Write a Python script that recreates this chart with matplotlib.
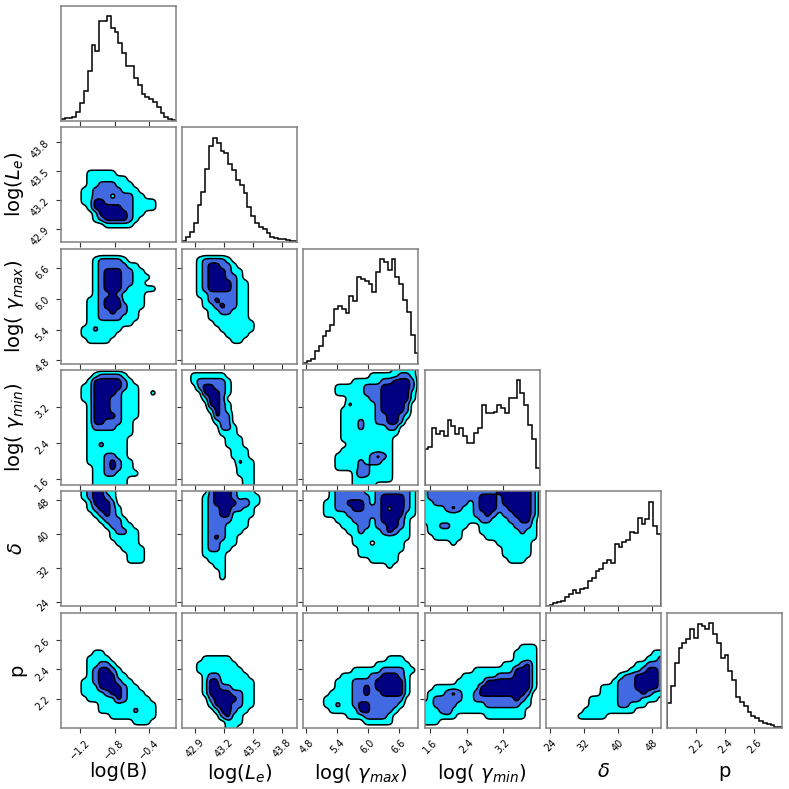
import numpy as np
import matplotlib.pyplot as plt

# axis names, ranges and ticks (one entry per parameter)
labels = ['log(B)', r'log($L_e$)', r'log( $\gamma_{max}$)', r'log( $\gamma_{min}$)', r'$\delta$', 'p']
ranges = [(-1.42, -0.09), (42.77, 43.955), (4.74, 6.98), (1.475, 4.01), (23.0, 50.1), (2.0, 2.79)]
tick_vals = [[-1.2, -0.8, -0.4], [42.9, 43.2, 43.5, 43.8], [4.8, 5.4, 6.0, 6.6],
             [1.6, 2.4, 3.2], [24, 32, 40, 48], [2.2, 2.4, 2.6]]
tick_text = [['\u22121.2', '\u22120.8', '\u22120.4'], ['42.9', '43.2', '43.5', '43.8'],
             ['4.8', '5.4', '6.0', '6.6'], ['1.6', '2.4', '3.2'], ['24', '32', '40', '48'],
             ['2.2', '2.4', '2.6']]

# 1D marginal histograms (30 bins over each axis range)
hist_B = [4, 7, 7, 10, 27, 54, 90, 150, 227, 210, 300, 300, 314, 277, 267, 234, 202, 164, 164, 127,
          107, 79, 72, 64, 57, 40, 22, 12, 4, 2]
hist_Le = [4, 14, 29, 56, 111, 151, 221, 289, 314, 299, 274, 269, 234, 216, 188, 171, 146, 106, 78, 58,
           46, 40, 26, 14, 12, 10, 8, 6, 4, 3]
hist_gmax = [1, 6, 13, 36, 53, 83, 96, 116, 163, 173, 163, 150, 203, 188, 260, 253, 246, 238, 213, 273,
             313, 303, 281, 313, 258, 238, 190, 153, 86, 31]
hist_gmin = [107, 114, 170, 154, 162, 147, 194, 177, 152, 172, 147, 125, 125, 157, 172, 239, 217, 217, 220, 240,
             232, 217, 260, 260, 314, 277, 240, 179, 139, 50]
hist_delta = [1, 4, 10, 12, 17, 27, 37, 49, 40, 52, 54, 77, 84, 107, 112, 130, 140, 130, 188, 177,
              194, 200, 224, 220, 265, 247, 262, 314, 240, 217]
hist_p = [73, 125, 193, 240, 255, 265, 295, 270, 311, 303, 295, 313, 281, 253, 208, 218, 170, 143, 91, 78,
          65, 48, 35, 28, 20, 15, 11, 7, 3, 1]

# 2D credible-level maps, 21x21 samples, top row first
# '.' outside, '1' outer level, '2' middle level, '3' inner level
E = '.' * 21
lvl_Le_B = [E, E, E, E, E, E, E, E,
            ".....11111...........",
            ".....1111111.........",
            ".....11222111........",
            "....1122222111.......",
            "....11222122211......",
            "....1133222221111....",
            ".....133333221111....",
            "......133333211......",
            "......12333321.......",
            "........11111........",
            E, E, E]
lvl_gmax_B = [E, E,
              "......122221.........",
              "......12222211.......",
              "......123332211......",
              "......1233322111.....",
              "......123332211......",
              "......12333211111....",
              "......122321111......",
              ".....1123331111......",
              ".....1123332111......",
              ".....112232211.......",
              ".....112222111.......",
              ".....11111111........",
              "....1121111..........",
              "....111111...........",
              ".....1111............",
              E, E, E, E]
lvl_gmax_Le = [E, E,
               "...122221............",
               "...1233221...........",
               "...12333211..........",
               "...12333221..........",
               "...123333211.........",
               "...123333211.........",
               "...112222211.........",
               "....12322211.........",
               "....11232211.........",
               ".....1122111.........",
               ".....1111111.........",
               "......1111111........",
               ".......111111........",
               "........1111.........",
               ".........11..........",
               E, E, E, E]
lvl_gmin_B = [E,
              "......122221.........",
              ".....13333321........",
              "....1133333211.......",
              "....1133332111..1....",
              "....1133322111.......",
              ".....133322111.......",
              ".....133322111.......",
              ".....133332111.......",
              ".....13322211........",
              ".....12222111........",
              ".....11111111........",
              ".....1111111.........",
              ".....1121111.........",
              ".....1111111.........",
              ".....1112211.........",
              ".....11123211........",
              "......1123211........",
              "......11221111.......",
              "......111111.........",
              "......111111........."]
lvl_gmin_Le = [E,
               "..111111.............",
               "..1222221............",
               "...233221............",
               "....33321............",
               "....1332.............",
               ".....3321............",
               ".....1321............",
               "......322............",
               "......122............",
               ".......221...........",
               ".......111...........",
               "........111..........",
               "........111..........",
               ".........111.........",
               ".........111.........",
               "..........211........",
               "..........111........",
               "..........111........",
               "...........11........",
               "...........11........"]
lvl_gmin_gmax = ["................1111.",
                 "............11111221.",
                 ".........11111223332.",
                 "......11111222333332.",
                 "......11111222333331.",
                 "........111122333331.",
                 "........21111233332..",
                 ".......111111233332..",
                 ".......111111223321..",
                 ".......11121122332...",
                 ".......1112111122....",
                 ".......1111111111....",
                 ".......111111111.....",
                 "........11111111.....",
                 ".......111111111.....",
                 "......1111112321.....",
                 "......1111212211.....",
                 "......1111221111.....",
                 ".........1321111.....",
                 ".........1111111.....",
                 ".........1111........"]
lvl_delta_B = ["....123311...........",
               "....123321...........",
               ".....13332...........",
               ".....123321..........",
               "......12321..........",
               ".......12221.........",
               "........12211........",
               ".........12211.......",
               ".........11111.......",
               "..........1111.......",
               "...........1111......",
               "............111......",
               "............111......",
               E, E, E, E, E, E, E, E]
lvl_delta_Le = [".....23332111........",
                "....1233321111.......",
                "....1233332311.......",
                "....122332211........",
                "....122331111........",
                "....12222111.........",
                "....12221111.........",
                "....1222111..........",
                "....123211...........",
                "....122111...........",
                "....12211............",
                "....1111.............",
                ".....111.............",
                "......11.............",
                ".......1.............",
                ".......1.............",
                E, E, E, E, E]
lvl_delta_gmax = [".....122222112222221.",
                  ".....122222212333321.",
                  "....1122333212333321.",
                  "....1122233222323321.",
                  "....1111222222333311.",
                  "......1112221233321..",
                  ".......111221223321..",
                  "........11211123211..",
                  ".........1111111111..",
                  ".........111.11111...",
                  "..........11111111...",
                  "..........1111111....",
                  "............11111....",
                  "...............1.....",
                  E, E, E, E, E, E, E]
lvl_delta_gmin = ["12222222222223333332.",
                  "12222222223332333332.",
                  "11222222123332333332.",
                  "11112321123332233332.",
                  "11111111122321223332.",
                  "11111111112211122331.",
                  ".1122111..1111112221.",
                  ".111111...1111111211.",
                  "..11111....111111111.",
                  ".....1.......111111..",
                  "..............11111..",
                  "..............11111..",
                  "...............111...",
                  E, E, E, E, E, E, E, E]
lvl_p_B = [E, E, E, E, E, E, E,
           "......11.............",
           ".....1111............",
           ".....11221...........",
           ".....123321..........",
           ".....1233311.........",
           "....112333211........",
           "....1113333211.......",
           "....11112332111......",
           ".....11111321111.....",
           ".......1111111111....",
           ".......1111112111....",
           ".........11111111....",
           ".............111.....",
           E]
lvl_p_Le = [E, E, E, E, E, E, E, E,
            "....11111............",
            "...1111111...........",
            "...11111111..........",
            "....12211111.........",
            "....133111111........",
            "....133221111........",
            "....133332211........",
            ".....23333211........",
            ".....13332211........",
            "......133211.........",
            ".......2311..........",
            "........111..........",
            "........11..........."]
lvl_p_gmax = [E, E, E, E, E, E, E, E,
              "...............111...",
              ".............111111..",
              ".........11111222211.",
              ".......111112233321..",
              "......1112222333331..",
              "......1112232333331..",
              ".....11112232233331..",
              "....11111222222222...",
              "....11211233222221...",
              ".....111113322221....",
              "........11122221.....",
              "...........11111.....",
              E]
lvl_p_gmin = [E, E, E, E, E, E,
              ".................111.",
              "................1111.",
              "................1111.",
              "..............111231.",
              ".........11111113331.",
              ".......1111112223331.",
              "......11111333333331.",
              "..111111113333333331.",
              ".111232112333333332..",
              ".122222112222222321..",
              "1122221111122222211..",
              "111231111111111111...",
              "111111.....1111111...",
              "111..................",
              E]
lvl_p_delta = [E, E, E, E, E, E, E,
               "...................11",
               "..................112",
               "................11222",
               "...............112332",
               ".............12233332",
               "............122233332",
               "..........11122233332",
               "..........11122223211",
               "........111112222111.",
               "........1111122111...",
               ".......111111111.....",
               "......11111..........",
               E, E]

hists = [hist_B, hist_Le, hist_gmax, hist_gmin, hist_delta, hist_p]
maps = {(1, 0): lvl_Le_B,
        (2, 0): lvl_gmax_B, (2, 1): lvl_gmax_Le,
        (3, 0): lvl_gmin_B, (3, 1): lvl_gmin_Le, (3, 2): lvl_gmin_gmax,
        (4, 0): lvl_delta_B, (4, 1): lvl_delta_Le, (4, 2): lvl_delta_gmax, (4, 3): lvl_delta_gmin,
        (5, 0): lvl_p_B, (5, 1): lvl_p_Le, (5, 2): lvl_p_gmax, (5, 3): lvl_p_gmin, (5, 4): lvl_p_delta}

fill_colors = ['cyan', 'royalblue', 'navy']
n = len(labels)
UP = 6        # sub-cells per map sample
SIG = 0.4     # smoothing width, in map samples


def level_grid(rows):
    g = np.array([['.123'.index(ch) for ch in r.ljust(21, '.')[:21]] for r in rows], dtype=float)
    return g[::-1]


def smooth(Z):
    # blocky up-sampling of the level map, then a light gaussian blur so the
    # contour outlines come out rounded like the original KDE contours
    big = np.kron(Z, np.ones((UP, UP)))
    s = SIG * UP
    rad = int(3 * s) + 1
    k = np.exp(-0.5 * (np.arange(-rad, rad + 1) / s) ** 2)
    k /= k.sum()
    pad = np.pad(big, rad, mode='edge')
    tmp = np.apply_along_axis(lambda v: np.convolve(v, k, mode='valid'), 0, pad)
    return np.apply_along_axis(lambda v: np.convolve(v, k, mode='valid'), 1, tmp)


def fine_axis(lo, hi, npts):
    d = (hi - lo) / (npts - 1)
    return lo + ((np.arange(npts * UP) + 0.5) / UP - 0.5) * d


fig = plt.figure(figsize=(7.89, 7.89), dpi=100)
W = 789.0
S = 115.0

for r in range(n):
    for c in range(r + 1):
        left = 61 + 121.2 * c
        top = 5.7 + 121.4 * r
        ax = fig.add_axes([left / W, 1 - (top + S) / W, S / W, S / W])

        if r == c:
            counts = hists[c]
            edges = np.linspace(ranges[c][0], ranges[c][1], len(counts) + 1)
            ax.stairs(counts, edges, color='k', lw=1.1, baseline=0)
            ax.set_ylim(0, 1.1 * max(counts))
            ax.set_yticks([])
        else:
            Z = level_grid(maps[(r, c)])
            Zs = smooth(Z)
            xs = fine_axis(ranges[c][0], ranges[c][1], Z.shape[1])
            ys = fine_axis(ranges[r][0], ranges[r][1], Z.shape[0])
            ax.contourf(xs, ys, Zs, levels=[0.5, 1.5, 2.5, 3.5], colors=fill_colors)
            ax.contour(xs, ys, Zs, levels=[0.5, 1.5, 2.5], colors='k', linewidths=1.1)
            ax.set_ylim(ranges[r])
            ax.set_yticks(tick_vals[r])
            if c == 0:
                ax.set_yticklabels(tick_text[r], rotation=45)
                ax.set_ylabel(labels[r], fontsize=14)
                ax.yaxis.set_label_coords(-0.3, 0.5)
            else:
                ax.set_yticklabels([])

        ax.set_xlim(ranges[c])
        ax.set_xticks(tick_vals[c])
        if r == n - 1:
            ax.set_xticklabels(tick_text[c], rotation=45)
            ax.set_xlabel(labels[c], fontsize=14)
            ax.xaxis.set_label_coords(0.5, -0.3)
        else:
            ax.set_xticklabels([])

        ax.tick_params(direction='out', length=3.5, width=0.8, labelsize=7, color='0.2')
        for sp in ax.spines.values():
            sp.set_color('0.5')
            sp.set_linewidth(1.1)

fig.savefig('out.png', dpi=100)
